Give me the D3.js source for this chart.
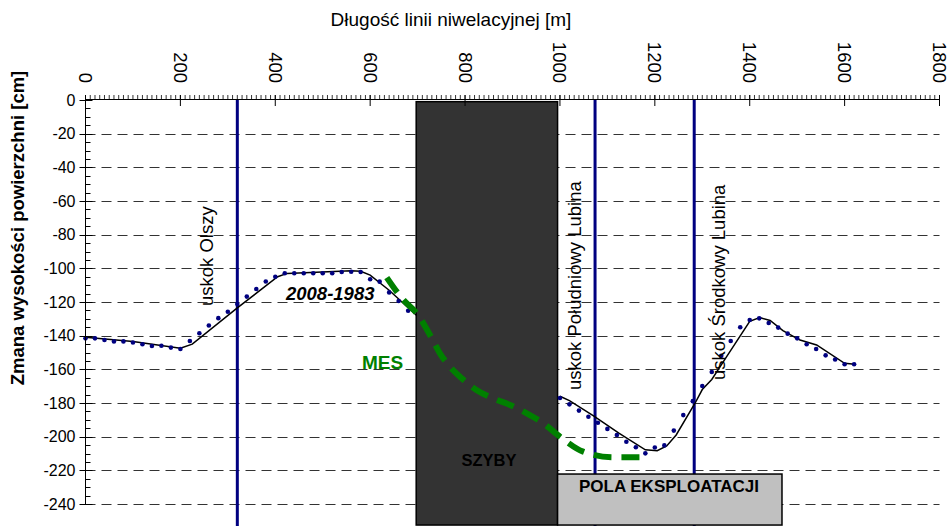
<!DOCTYPE html>
<html>
<head>
<meta charset="utf-8">
<title>Zmiana wysokości powierzchni</title>
<script src="https://cdn.jsdelivr.net/npm/d3@7"></script>
<style>
    body { margin: 0; background: #fff; }
    svg { display: block; }
    text { font-family: Arial, "Liberation Sans", sans-serif; fill: #000; }
    .grid { stroke: #333; stroke-width: 1; stroke-dasharray: 10,6; }
    .tick-lbl { font-size: 16px; }
    .top-lbl { font-size: 18.5px; }
</style>
</head>
<body>
<div id="chart"></div>
<script>

    // distances along the levelling line [m] and height change [cm]
    var xTicks = [0, 200, 400, 600, 800, 1000, 1200, 1400, 1600, 1800];
    var yTicks = [0, -20, -40, -60, -80, -100, -120, -140, -160, -180, -200, -220, -240];

    // measured points 2008-1983 (dots)
    var dotDistA = [0, 20, 40, 60, 80, 100, 120, 140, 160, 180, 200, 220, 240, 260, 280, 300, 320, 340,
                    360, 380, 400, 420, 440, 460, 480, 500, 520, 540, 560, 580, 600, 620, 640, 660, 680];
    var dotValA  = [-141.6, -141.6, -142.6, -143.4, -143.4, -144.1, -145.1, -146.1, -146, -147.1, -147.9,
                    -143.2, -138.6, -134, -129.6, -125.8, -121.2, -116.8, -112.3, -107.8, -105, -102.9,
                    -102.9, -102.9, -102.9, -102.9, -102.9, -102.2, -102, -102.2, -106.5, -107.9, -114.3,
                    -119.4, -125.2];
    var dotDistB = [1000, 1020, 1040, 1060, 1080, 1100, 1120, 1140, 1160, 1180, 1200, 1220, 1240, 1260,
                    1280, 1300, 1320, 1340, 1360, 1380, 1400, 1420, 1440, 1460, 1480, 1500, 1520, 1540,
                    1560, 1580, 1600, 1620];
    var dotValB  = [-177, -180.8, -184.5, -188.2, -191.7, -195.4, -199, -203, -206.3, -209.9, -206.4,
                    -205.2, -196.4, -187.2, -178.9, -169.9, -161.6, -152, -143.2, -135, -130.7, -129.7,
                    -132.5, -135.2, -138.8, -141.6, -145.1, -147.9, -151.7, -154.2, -157, -157];

    // smoothed line 2008-1983
    var lineDistA = [0, 100, 200, 225, 320, 405, 425, 560, 580, 600, 640, 698];
    var lineValA  = [-141, -143.5, -147.5, -145, -123.5, -105, -103, -101.5, -101.8, -104, -113, -128];
    var lineDistB = [1000, 1020, 1070, 1125, 1180, 1205, 1225, 1245, 1285, 1300, 1320, 1350, 1400,
                     1421, 1443, 1470, 1506, 1541, 1600, 1622];
    var lineValB  = [-176, -178.6, -187.5, -198, -207.8, -208.3, -205.5, -199, -180, -172, -166, -153,
                     -131.5, -129.3, -131, -137, -142.6, -145.5, -156.4, -157];

    // MES model
    var mesDist = [635, 670, 698, 730, 747, 768, 793, 824, 859, 895, 930, 965, 1000, 1049, 1112, 1183];
    var mesVal  = [-105.5, -118.8, -126.7, -141.6, -150.5, -158.4, -165.3, -172.3, -177.2, -181.2,
                   -186.1, -192, -200, -208.9, -212.3, -212.3];

    // faults
    var faultDist = [320, 1074, 1283];
    var faultName = ["uskok Olszy", "uskok Południowy Lubina", "uskok Środkowy Lubina"];

    var width = 952, height = 526;

    var svg = d3.select("#chart").append("svg")
        .attr("width", width)
        .attr("height", height);

    var x = d3.scaleLinear().domain([0, 1800]).range([85.5, 939.5]);
    var y = d3.scaleLinear().domain([0, -240]).range([100, 504]);
    var yBottom = -252.5;

    // horizontal dashed grid
    svg.append("g").selectAll("line")
        .data(yTicks.slice(1))
        .enter().append("line")
        .attr("class", "grid")
        .attr("x1", x(0)).attr("x2", x(1800))
        .attr("y1", function(d) { return Math.round(y(d)) + 0.5; })
        .attr("y2", function(d) { return Math.round(y(d)) + 0.5; });

    // faults
    svg.append("g").selectAll("line")
        .data(faultDist)
        .enter().append("line")
        .attr("x1", function(d) { return x(d); })
        .attr("x2", function(d) { return x(d); })
        .attr("y1", y(0)).attr("y2", height)
        .attr("stroke", "#000080")
        .attr("stroke-width", 3);

    // shafts and mining fields
    svg.append("rect")
        .attr("x", x(697)).attr("y", y(-1))
        .attr("width", x(995) - x(697))
        .attr("height", y(yBottom) - y(-1))
        .attr("fill", "#333333")
        .attr("stroke", "#000")
        .attr("stroke-width", 1.5);

    svg.append("rect")
        .attr("x", x(995)).attr("y", y(-222.2))
        .attr("width", x(1468) - x(995))
        .attr("height", y(yBottom) - y(-222.2))
        .attr("fill", "#c0c0c0")
        .attr("stroke", "#000")
        .attr("stroke-width", 1.5);

    // measured line
    var line = d3.line()
        .x(function(d) { return x(d[0]); })
        .y(function(d) { return y(d[1]); });

    [[lineDistA, lineValA], [lineDistB, lineValB]].forEach(function(s) {
        svg.append("path")
            .datum(d3.zip(s[0], s[1]))
            .attr("d", line)
            .attr("fill", "none")
            .attr("stroke", "#000")
            .attr("stroke-width", 1.5);
    });

    var dots = d3.zip(dotDistA, dotValA).concat(d3.zip(dotDistB, dotValB));
    svg.append("g").selectAll("circle")
        .data(dots)
        .enter().append("circle")
        .attr("cx", function(d) { return x(d[0]); })
        .attr("cy", function(d) { return y(d[1]); })
        .attr("r", 2.3)
        .attr("fill", "#000080");

    // MES curve
    svg.append("path")
        .datum(d3.zip(mesDist, mesVal))
        .attr("d", line.curve(d3.curveMonotoneX))
        .attr("fill", "none")
        .attr("stroke", "#008000")
        .attr("stroke-width", 6)
        .attr("stroke-dasharray", "18,10");

    // left axis
    var yAxis = svg.append("g");
    yAxis.append("line")
        .attr("x1", x(0)).attr("x2", x(0))
        .attr("y1", y(0)).attr("y2", y(-240))
        .attr("stroke", "#000");
    yAxis.selectAll(".minor")
        .data(d3.range(0, -241, -5))
        .enter().append("line")
        .attr("x1", x(0)).attr("x2", x(0) + 5)
        .attr("y1", function(d) { return Math.round(y(d)) + 0.5; })
        .attr("y2", function(d) { return Math.round(y(d)) + 0.5; })
        .attr("stroke", "#000");
    yAxis.selectAll(".major")
        .data(yTicks)
        .enter().append("line")
        .attr("x1", x(0) - 6).attr("x2", x(0) + 7)
        .attr("y1", function(d) { return Math.round(y(d)) + 0.5; })
        .attr("y2", function(d) { return Math.round(y(d)) + 0.5; })
        .attr("stroke", "#000");
    yAxis.selectAll("text")
        .data(yTicks)
        .enter().append("text")
        .attr("class", "tick-lbl")
        .attr("x", x(0) - 10)
        .attr("y", function(d) { return y(d); })
        .attr("dy", "0.35em")
        .attr("text-anchor", "end")
        .text(function(d) { return d; });

    // top axis
    var xAxis = svg.append("g");
    xAxis.append("line")
        .attr("x1", x(0)).attr("x2", x(1800))
        .attr("y1", y(0) - 0.5).attr("y2", y(0) - 0.5)
        .attr("stroke", "#000");
    xAxis.selectAll(".minor")
        .data(d3.range(0, 1801, 10))
        .enter().append("line")
        .attr("x1", function(d) { return x(d); })
        .attr("x2", function(d) { return x(d); })
        .attr("y1", y(0) - 5).attr("y2", y(0))
        .attr("stroke", "#000")
        .attr("stroke-width", 0.8);
    xAxis.selectAll(".major")
        .data(xTicks)
        .enter().append("line")
        .attr("x1", function(d) { return x(d); })
        .attr("x2", function(d) { return x(d); })
        .attr("y1", y(0) - 5).attr("y2", y(0) + 6)
        .attr("stroke", "#000");
    xAxis.selectAll("text")
        .data(xTicks)
        .enter().append("text")
        .attr("class", "top-lbl")
        .attr("transform", function(d) { return "translate(" + x(d) + ",83) rotate(90)"; })
        .attr("dy", "0.35em")
        .attr("text-anchor", "end")
        .text(function(d) { return d; });

    // titles
    svg.append("text")
        .attr("x", 451).attr("y", 26)
        .attr("text-anchor", "middle")
        .style("font-size", "19px")
        .text("Długość linii niwelacyjnej [m]");

    svg.append("text")
        .attr("transform", "translate(24,228) rotate(-90)")
        .attr("text-anchor", "middle")
        .style("font-size", "18.5px")
        .style("font-weight", "bold")
        .text("Zmana wysokości powierzchni [cm]");

    // fault labels
    var faultLblX = [213, 581, 725], faultLblY = [306, 390, 380];
    svg.append("g").selectAll("text")
        .data(faultName)
        .enter().append("text")
        .attr("transform", function(d, i) { return "translate(" + faultLblX[i] + "," + faultLblY[i] + ") rotate(-90)"; })
        .style("font-size", "18.5px")
        .text(function(d) { return d; });

    svg.append("text")
        .attr("x", 286).attr("y", 300)
        .style("font-size", "18.5px")
        .style("font-weight", "bold")
        .style("font-style", "italic")
        .text("2008-1983");

    svg.append("text")
        .attr("x", 362).attr("y", 369)
        .style("font-size", "19px")
        .style("font-weight", "bold")
        .style("fill", "#008000")
        .text("MES");

    svg.append("text")
        .attr("x", 489).attr("y", 466)
        .attr("text-anchor", "middle")
        .style("font-size", "16.5px")
        .style("font-weight", "bold")
        .text("SZYBY");

    svg.append("text")
        .attr("x", 669).attr("y", 492)
        .attr("text-anchor", "middle")
        .style("font-size", "17px")
        .style("font-weight", "bold")
        .text("POLA EKSPLOATACJI");

</script>
</body>
</html>
